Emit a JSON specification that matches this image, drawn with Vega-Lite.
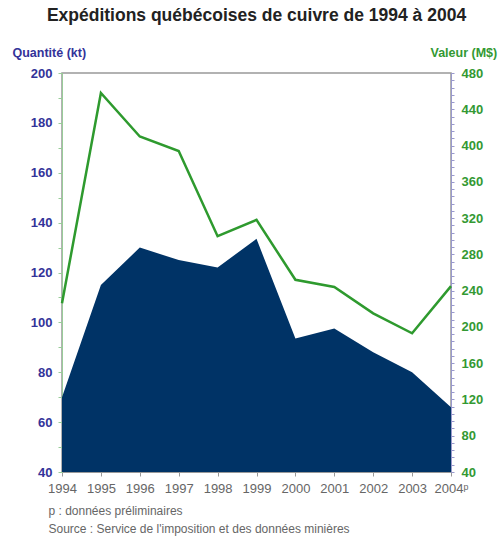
{
  "$schema": "https://vega.github.io/schema/vega-lite/v6.json",
  "autosize": {"type": "none"},
  "width": 389,
  "height": 399,
  "padding": {"left": 62, "top": 73, "right": 47, "bottom": 66},
  "background": "white",
  "title": {
    "text": "Expéditions québécoises de cuivre de 1994 à 2004",
    "font": "Liberation Sans",
    "fontSize": 17.5,
    "fontWeight": "bold",
    "color": "#222222",
    "anchor": "middle",
    "offset": 22
  },
  "config": {
    "view": {"stroke": "#999999", "strokeWidth": 1.5},
    "font": "Liberation Sans"
  },
  "data": {
    "values": [
      {"annee": 1994, "quantite": 70, "valeur": 226},
      {"annee": 1995, "quantite": 115, "valeur": 458},
      {"annee": 1996, "quantite": 130, "valeur": 410},
      {"annee": 1997, "quantite": 125, "valeur": 394},
      {"annee": 1998, "quantite": 122, "valeur": 300},
      {"annee": 1999, "quantite": 133.5, "valeur": 318},
      {"annee": 2000, "quantite": 93.5, "valeur": 252},
      {"annee": 2001, "quantite": 97.5, "valeur": 244},
      {"annee": 2002, "quantite": 88, "valeur": 215},
      {"annee": 2003, "quantite": 80, "valeur": 193},
      {"annee": 2004, "quantite": 66, "valeur": 245}
    ]
  },
  "encoding": {
    "x": {
      "field": "annee",
      "type": "quantitative",
      "scale": {"domain": [1994, 2004], "nice": false, "zero": false},
      "axis": {
        "values": [1994, 1995, 1996, 1997, 1998, 1999, 2000, 2001, 2002, 2003, 2004],
        "format": "d",
        "labelExpr": "datum.value == 2004 ? '2004ᵖ' : datum.label",
        "grid": false,
        "domainColor": "#999999",
        "tickColor": "#999999",
        "tickSize": 4,
        "labelColor": "#666666",
        "labelFontSize": 13,
        "labelPadding": 6,
        "labelFlush": false,
        "title": ["p : données préliminaires", "Source : Service de l'imposition et des données minières"],
        "titleColor": "#666666",
        "titleFontSize": 12,
        "titleFontWeight": "normal",
        "titleAlign": "left",
        "titleAnchor": "start",
        "titleX": -14,
        "titleY": 33,
        "titleLineHeight": 18
      }
    }
  },
  "layer": [
    {
      "mark": {"type": "area", "color": "#003366", "clip": true},
      "encoding": {
        "y": {
          "field": "quantite",
          "type": "quantitative",
          "scale": {"domain": [40, 200], "nice": false, "zero": false},
          "axis": {
            "orient": "left",
            "values": [40, 50, 60, 70, 80, 90, 100, 110, 120, 130, 140, 150, 160, 170, 180, 190, 200],
            "labelExpr": "datum.value % 20 == 0 ? datum.label : ''",
            "grid": false,
            "domainColor": "#99cc99",
            "tickColor": "#99cc99",
            "tickSize": 4,
            "labelColor": "#333399",
            "labelFontSize": 13,
            "labelFontWeight": "bold",
            "labelPadding": 6,
            "title": "Quantité (kt)",
            "titleColor": "#333399",
            "titleFontSize": 12.5,
            "titleFontWeight": "bold",
            "titleAngle": 0,
            "titleAlign": "left",
            "titleBaseline": "middle",
            "titleX": -50,
            "titleY": -21
          }
        }
      }
    },
    {
      "mark": {"type": "line", "color": "#2e9a2e", "strokeWidth": 2.5},
      "encoding": {
        "y": {
          "field": "valeur",
          "type": "quantitative",
          "scale": {"domain": [40, 480], "nice": false, "zero": false},
          "axis": {
            "orient": "right",
            "values": [40, 48, 56, 64, 72, 80, 88, 96, 104, 112, 120, 128, 136, 144, 152, 160, 168, 176, 184, 192, 200, 208, 216, 224, 232, 240, 248, 256, 264, 272, 280, 288, 296, 304, 312, 320, 328, 336, 344, 352, 360, 368, 376, 384, 392, 400, 408, 416, 424, 432, 440, 448, 456, 464, 472, 480],
            "labelExpr": "datum.value % 40 == 0 ? datum.label : ''",
            "grid": false,
            "domainColor": "#9999cc",
            "tickColor": "#9999cc",
            "tickSize": 3,
            "labelColor": "#339933",
            "labelFontSize": 13,
            "labelFontWeight": "bold",
            "labelPadding": 7,
            "title": "Valeur (M$)",
            "titleColor": "#339933",
            "titleFontSize": 12.5,
            "titleFontWeight": "bold",
            "titleAngle": 0,
            "titleAlign": "left",
            "titleBaseline": "middle",
            "titleX": -21,
            "titleY": -21
          }
        }
      }
    }
  ],
  "resolve": {"scale": {"y": "independent"}}
}
